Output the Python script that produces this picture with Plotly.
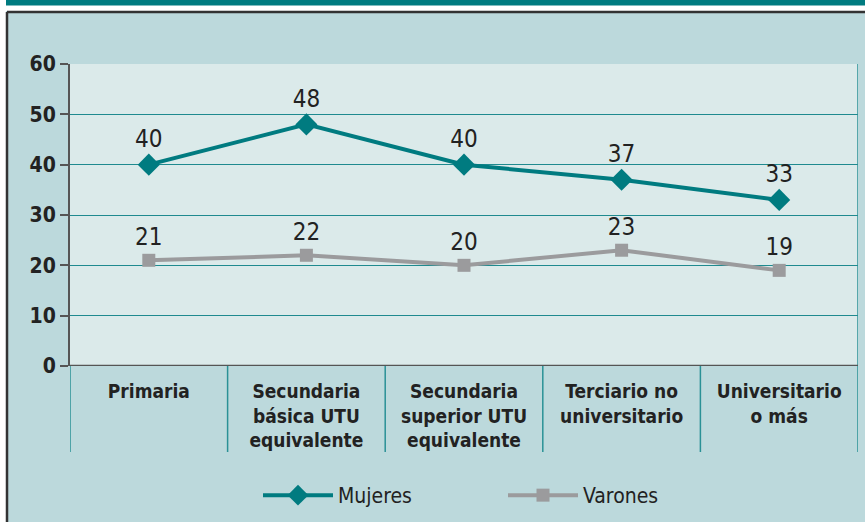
import plotly.graph_objects as go

categories = ["Primaria", "Secundaria<br>básica UTU<br>equivalente", "Secundaria<br>superior UTU<br>equivalente",
              "Terciario no<br>universitario", "Universitario<br>o más"]
mujeres = [40, 48, 40, 37, 33]
varones = [21, 22, 20, 23, 19]
y_ticks = [0, 10, 20, 30, 40, 50, 60]

W, H = 865, 522
L, R, T, B = 70, 858, 64, 366
def px(x):
    return (x - L) / (R - L)
def py(y):
    return (B - y) / (B - T)

TEAL = "#007b80"
GRAY = "#9b9b9d"
FONT = "Liberation Sans Narrow, DejaVu Sans Condensed, Arial Narrow, sans-serif"
xs = list(range(len(categories)))

fig = go.Figure()
fig.add_trace(go.Scatter(x=xs, y=mujeres, name="Mujeres", mode="lines+markers+text",
                         line=dict(color=TEAL, width=4),
                         marker=dict(symbol="diamond", size=17, color=TEAL),
                         text=[str(v) for v in mujeres], textposition="top center",
                         textfont=dict(family=FONT, size=24, color="#222")))
fig.add_trace(go.Scatter(x=xs, y=varones, name="Varones", mode="lines+markers+text",
                         line=dict(color=GRAY, width=4),
                         marker=dict(symbol="square", size=13, color=GRAY),
                         text=[str(v) for v in varones], textposition="top center",
                         textfont=dict(family=FONT, size=24, color="#222")))

shapes = []
# top decoration
shapes.append(dict(type="rect", xref="paper", yref="paper", x0=px(0), x1=px(W), y0=py(11), y1=py(0),
                   fillcolor="white", line=dict(width=0), layer="below"))
shapes.append(dict(type="rect", xref="paper", yref="paper", x0=px(0), x1=px(W), y0=py(5.5), y1=py(0),
                   fillcolor=TEAL, line=dict(width=0), layer="below"))
shapes.append(dict(type="rect", xref="paper", yref="paper", x0=px(0), x1=px(6), y0=py(H), y1=py(0),
                   fillcolor="white", line=dict(width=0), layer="below"))
# outer border
shapes.append(dict(type="line", xref="paper", yref="paper", x0=px(7), x1=px(W), y0=py(12), y1=py(12),
                   line=dict(color="#333", width=2.5)))
shapes.append(dict(type="line", xref="paper", yref="paper", x0=px(7), x1=px(7), y0=py(12), y1=py(H),
                   line=dict(color="#333", width=2.5)))
# category separators
for i in range(len(categories) + 1):
    shapes.append(dict(type="line", xref="x", yref="paper", x0=i - 0.5, x1=i - 0.5,
                       y0=py(452), y1=0 if i < len(categories) else 1,
                       line=dict(color="#2a9196", width=1.5)))

fig.update_layout(
    width=W, height=H,
    margin=dict(l=L, r=W - R, t=T, b=H - B, pad=0, autoexpand=False),
    paper_bgcolor="#bcd9dc", plot_bgcolor="#dbeaea",
    shapes=shapes,
    showlegend=True,
    legend=dict(orientation="h", x=px(258), y=py(475), xanchor="left", yanchor="top",
                font=dict(family=FONT, size=21, color="#222"),
                entrywidth=160, entrywidthmode="pixels", itemwidth=70,
                bgcolor="rgba(0,0,0,0)"),
    xaxis=dict(range=[-0.5, 4.5], tickvals=xs, ticktext=["<b>%s</b>" % c for c in categories],
               showgrid=False, zeroline=False, showline=False, ticks="",
               tickfont=dict(family=FONT, size=19, color="#222"), ticklabelstandoff=12,
               fixedrange=True),
    yaxis=dict(range=[0, 60], tickvals=y_ticks, ticktext=["<b>%d</b>" % v for v in y_ticks],
               showgrid=True, gridcolor="#1f8a8f", gridwidth=1, zeroline=False,
               showline=True, linecolor="#555", linewidth=2, ticks="outside", ticklen=8,
               tickcolor="#555", tickwidth=1.5,
               tickfont=dict(family=FONT, size=21, color="#222"), fixedrange=True),
)
# x axis baseline
fig.add_hline(y=0, line=dict(color="#555", width=2.5))

fig.write_html("out.html", config={"displayModeBar": False},
               post_script="document.body.style.margin='0';document.body.style.overflow='hidden';")
